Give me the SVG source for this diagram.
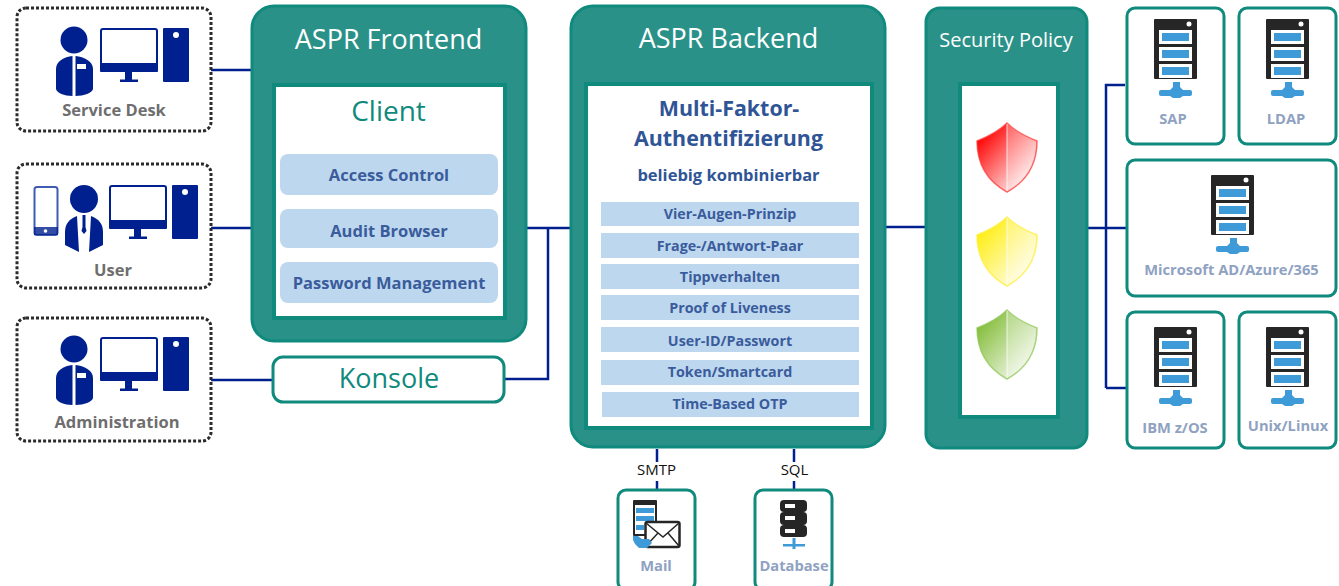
<svg xmlns="http://www.w3.org/2000/svg" width="1339" height="586" viewBox="0 0 1339 586">
<style>
text{font-family:"Open Sans","Noto Sans","Liberation Sans",sans-serif;text-anchor:middle}
.panel{fill:#2a9188;stroke:#0f8a7c;stroke-width:3}
.inner{fill:#fff;stroke:#0f8a7c;stroke-width:4}
.dot{fill:#fff;stroke:#2b2b2b;stroke-width:3;stroke-dasharray:3 2}
.box{fill:#fff;stroke:#0f8a7c;stroke-width:3}
.row{fill:#bdd7ee}
.t1{font-size:27px;fill:#fff}
.rowt{font-size:14.300px;font-weight:700;fill:#3a5c9c}
.crow{font-size:16.500px;font-weight:700;fill:#3a5c9c}
.grey{font-size:16.500px;font-weight:700;fill:#6e6e6e}
.lbl{font-size:14.700px;font-weight:700;fill:#8fa2c2}
.head{font-size:21.400px;font-weight:700;fill:#2f5597}
.con{fill:none;stroke:#00208f;stroke-width:2.500}
.navy{fill:#00208f}
.dark{fill:#262626}
.bl{fill:#3f9bd8}
</style>
<defs>
<linearGradient id="gr" x1="0" y1="0" x2="1" y2="1"><stop offset="0.12" stop-color="#ff0000"/><stop offset="0.85" stop-color="#fff0f0"/></linearGradient>
<linearGradient id="gy" x1="0" y1="0" x2="1" y2="1"><stop offset="0.12" stop-color="#ffee10"/><stop offset="0.85" stop-color="#fffde8"/></linearGradient>
<linearGradient id="gg" x1="0" y1="0" x2="1" y2="1"><stop offset="0.12" stop-color="#84bd3a"/><stop offset="0.85" stop-color="#f2f8ea"/></linearGradient>
<path id="shield" d="M30 0 C38 8 50 14 60 18 C60 40 50 58 30 69 C10 58 0 40 0 18 C10 14 22 8 30 0Z"/>
<path id="half" d="M30 0 C38 8 50 14 59 18 C59 40 50 58 30 68Z"/>
<g id="pc">
<rect x="1" y="1" width="56" height="42" rx="2" fill="#fff" stroke="#00208f" stroke-width="2"/>
<rect x="0" y="35" width="58" height="9" rx="1" class="navy"/>
<rect x="25" y="44" width="7" height="8" class="navy"/>
<rect x="20" y="51.500" width="18" height="2.500" class="navy"/>
<rect x="63" y="0" width="26" height="54" rx="1" class="navy"/>
<circle cx="76" cy="7" r="3" fill="#fff"/>
</g>
<g id="agent">
<circle cx="18" cy="13" r="13.500" class="navy"/>
<path d="M16.500 29V69 C8 69 1 66 0 62 V42 C0 34 8 30 16.500 29Z" class="navy"/>
<path d="M19.500 29V69 C28 69 36 66 37 62 V42 C37 34 28 30 19.500 29Z" class="navy"/>
<rect x="21" y="37" width="9" height="5" fill="#fff"/>
</g>
<g id="server">
<rect x="0" y="0" width="43" height="60" rx="1" class="dark"/>
<circle cx="35" cy="5" r="2.500" fill="#fff"/>
<rect x="5" y="11" width="33" height="14" fill="#fff"/><rect x="8" y="14" width="27" height="8" class="bl"/>
<rect x="5" y="28" width="33" height="14" fill="#fff"/><rect x="8" y="31" width="27" height="8" class="bl"/>
<rect x="5" y="45" width="33" height="14" fill="#fff"/><rect x="8" y="48" width="27" height="8" class="bl"/>
<rect x="5" y="71" width="33" height="6" rx="2" class="bl"/>
<path d="M19 63h7v5l3 3v6l-3 2h-7l-3-2v-6l3-3z" class="bl"/>
</g>
</defs>

<g id="connectors">
<path class="con" d="M211 70H252M211 228H252M211 380H273M504 379H548V228M526 228H571M885 227H926M1087 228H1127M1106 388V85H1125M1106 388H1127M657 449V462M657 481V490M794 449V462M794 481V490"/>
</g>

<g id="service-desk">
<rect class="dot" x="17" y="8" width="194" height="123" rx="9"/>
<use href="#agent" x="56" y="27"/>
<use href="#pc" x="100" y="28"/>
<text class="grey" x="114" y="116">Service Desk</text>
</g>

<g id="user">
<rect class="dot" x="17" y="164" width="194" height="124" rx="9"/>
<rect x="34.500" y="187" width="23" height="48" rx="2.500" fill="#fff" stroke="#3f5cb0" stroke-width="2"/>
<rect x="34" y="227" width="24" height="8" class="navy" opacity=".8"/>
<circle cx="45.500" cy="231" r="1.800" fill="#fff"/>
<circle cx="84" cy="199" r="14" class="navy"/>
<path d="M77 216 C69 219 65 224 65 232V245L79 252Z M91 216 C99 219 103 224 103 232V245L89 252Z" class="navy"/>
<path d="M82.500 215h3v12l1 4-2.500 3-2.500-3 1-4z" class="navy"/>
<use href="#pc" x="109" y="185"/>
<text class="grey" x="113" y="276">User</text>
</g>

<g id="administration">
<rect class="dot" x="17" y="318" width="194" height="123" rx="9"/>
<use href="#agent" x="56" y="336"/>
<use href="#pc" x="100" y="337"/>
<text class="grey" x="117" y="428">Administration</text>
</g>

<g id="frontend">
<rect class="panel" x="252" y="6" width="274" height="335" rx="22"/>
<text class="t1" x="388.500" y="49">ASPR Frontend</text>
<rect class="inner" x="274" y="85" width="231" height="233"/>
<text x="388.500" y="121" font-size="28" fill="#0f8a7c">Client</text>
<rect class="row" x="280" y="154" width="218" height="41" rx="8"/>
<text class="crow" x="389" y="181">Access Control</text>
<rect class="row" x="280" y="209" width="218" height="39" rx="8"/>
<text class="crow" x="389" y="237">Audit Browser</text>
<rect class="row" x="280" y="262" width="218" height="41" rx="8"/>
<text class="crow" x="389" y="289">Password Management</text>
</g>

<g id="konsole">
<rect class="box" x="273" y="357" width="231" height="45" rx="10"/>
<text x="389" y="388" font-size="27" fill="#0f8a7c">Konsole</text>
</g>

<g id="backend">
<rect class="panel" x="571" y="6" width="314" height="441" rx="22"/>
<text class="t1" x="728.500" y="48">ASPR Backend</text>
<rect class="inner" x="586" y="84" width="286" height="344"/>
<text class="head" x="729" y="116">Multi-Faktor-</text>
<text class="head" x="728.500" y="146">Authentifizierung</text>
<text x="728.500" y="181" font-size="16.500" font-weight="700" fill="#2f5597">beliebig kombinierbar</text>
<rect class="row" x="601" y="202" width="258" height="24"/><text class="rowt" x="730" y="219">Vier-Augen-Prinzip</text>
<rect class="row" x="601" y="233" width="258" height="25"/><text class="rowt" x="730" y="251">Frage-/Antwort-Paar</text>
<rect class="row" x="601" y="264" width="258" height="25"/><text class="rowt" x="730" y="282">Tippverhalten</text>
<rect class="row" x="601" y="295" width="258" height="25"/><text class="rowt" x="730" y="313">Proof of Liveness</text>
<rect class="row" x="601" y="327" width="258" height="25"/><text class="rowt" x="730" y="346">User-ID/Passwort</text>
<rect class="row" x="601" y="360" width="258" height="25"/><text class="rowt" x="730" y="377">Token/Smartcard</text>
<rect class="row" x="602" y="392" width="257" height="25"/><text class="rowt" x="730" y="409">Time-Based OTP</text>
</g>

<g id="security-policy">
<rect class="panel" x="926" y="8" width="161" height="440" rx="14"/>
<text x="1006" y="47" font-size="20" fill="#fff">Security Policy</text>
<rect class="inner" x="960" y="84" width="98" height="333"/>
<use href="#shield" x="977" y="123" fill="url(#gr)" stroke="#ff3030" stroke-opacity=".7" stroke-width="1.500"/>
<use href="#half" x="977" y="123" fill="#fff" fill-opacity=".25"/>
<use href="#shield" x="977" y="217" fill="url(#gy)" stroke="#ffec30" stroke-opacity=".7" stroke-width="1.500"/>
<use href="#half" x="977" y="217" fill="#fff" fill-opacity=".25"/>
<use href="#shield" x="977" y="310" fill="url(#gg)" stroke="#8cc350" stroke-opacity=".7" stroke-width="1.500"/>
<use href="#half" x="977" y="310" fill="#fff" fill-opacity=".25"/>
<path d="M1007 124V191M1007 218V285M1007 311V378" stroke="#fff" stroke-opacity=".5" stroke-width="1.500" fill="none"/>
</g>

<g id="sap">
<rect class="box" x="1127" y="8" width="97" height="136" rx="8"/>
<use href="#server" x="1154" y="19"/>
<text class="lbl" x="1173" y="124">SAP</text>
</g>
<g id="ldap">
<rect class="box" x="1239" y="8" width="97" height="136" rx="8"/>
<use href="#server" x="1266" y="19"/>
<text class="lbl" x="1286" y="124">LDAP</text>
</g>
<g id="microsoft">
<rect class="box" x="1127" y="160" width="209" height="136" rx="8"/>
<use href="#server" x="1211" y="175"/>
<text class="lbl" x="1231.500" y="275">Microsoft AD/Azure/365</text>
</g>
<g id="ibm">
<rect class="box" x="1127" y="312" width="97" height="136" rx="8"/>
<use href="#server" x="1154" y="327"/>
<text class="lbl" x="1175" y="433">IBM z/OS</text>
</g>
<g id="unix">
<rect class="box" x="1239" y="312" width="97" height="136" rx="8"/>
<use href="#server" x="1266" y="327"/>
<text class="lbl" x="1288" y="431">Unix/Linux</text>
</g>

<g id="smtp-label"><text x="656.500" y="475" font-size="15" fill="#111">SMTP</text></g>
<g id="sql-label"><text x="794.500" y="475" font-size="15" fill="#111">SQL</text></g>

<g id="mail">
<rect class="box" x="618" y="490" width="77" height="100" rx="8"/>
<rect x="633" y="500" width="24" height="36" rx="1" class="dark"/>
<rect x="635" y="505" width="20" height="29" fill="#fff"/>
<rect x="636" y="508" width="18" height="5" class="bl"/><rect x="636" y="516" width="18" height="5" class="bl"/><rect x="636" y="525" width="8" height="5" class="bl"/>
<rect x="645.500" y="522" width="34" height="25" rx="2" fill="#fff" stroke="#262626" stroke-width="2.500"/>
<path d="M646 523l17 14 16-14M646 546l12-13M679 546l-11-13" fill="none" stroke="#262626" stroke-width="1.500"/>
<path d="M633 536h5l4 3h7l3 4-5 5h-8l-4-4-2-4z" class="bl"/>
<text class="lbl" x="656" y="571">Mail</text>
</g>

<g id="database">
<rect class="box" x="755" y="490" width="77" height="100" rx="8"/>
<rect x="780" y="500" width="27" height="12" rx="4" class="dark"/><rect x="780" y="512" width="27" height="13" rx="4" class="dark"/><rect x="780" y="525" width="27" height="12" rx="4" class="dark"/>
<rect x="785" y="504" width="10" height="4" fill="#fff"/><rect x="785" y="516" width="10" height="4" fill="#fff"/><rect x="785" y="529" width="10" height="4" fill="#fff"/>
<rect x="783" y="544" width="22" height="2.500" class="bl"/><rect x="792.500" y="538" width="3" height="11" class="bl"/>
<text class="lbl" x="794" y="571">Database</text>
</g>
</svg>
